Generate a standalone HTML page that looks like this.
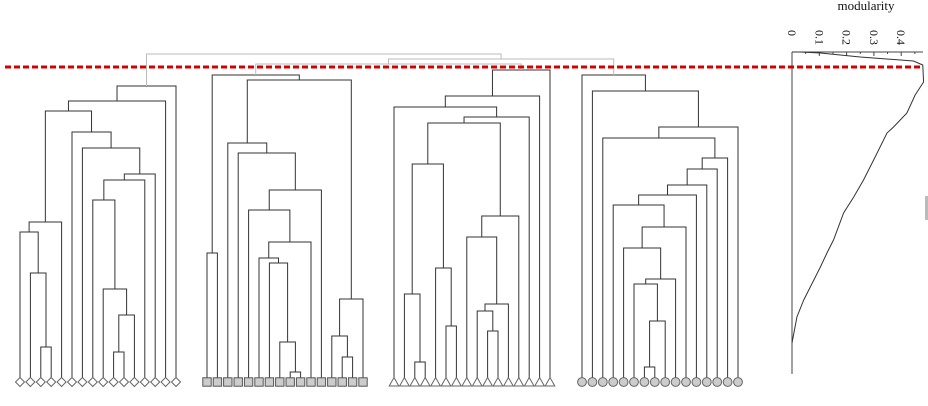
<!DOCTYPE html>
<html><head><meta charset="utf-8"><style>
html,body{margin:0;padding:0;background:#fff;width:928px;height:406px;overflow:hidden}
svg{display:block}
text{font-family:"Liberation Serif",serif;fill:#111}
</style></head><body>
<svg id="chart" width="928" height="406" viewBox="0 0 928 406" xmlns="http://www.w3.org/2000/svg">
<g id="trees"></g>
<g id="leaves"></g>
<g id="mod"></g>
<line x1="5" y1="67" x2="922" y2="67" stroke="#d40000" stroke-width="3" stroke-dasharray="6,3"/>
<text x="866" y="10" font-size="13" text-anchor="middle">modularity</text>
<rect x="925" y="196" width="3" height="24" fill="#bbb"/>
</svg>
<script>
// merges: [childA, childB, height]; child >=0 leaf index, child <0 => merge -(k+1)
const cluster1 = [[2,3,33],[1,-1,107],[0,-2,148],[-3,4,158],[9,10,28],[-5,11,65],[8,-6,91],[7,-7,180],[-8,12,200],[-9,13,206],[6,-10,232],[5,-11,248],[-4,-12,269],[-13,14,279],[-14,15,294]];
const cluster2 = [[0,1,127],[8,9,8],[7,-2,38],[6,-3,117],[5,-4,122],[-5,10,138],[4,-6,170],[-7,11,190],[3,-8,227],[2,-9,237],[13,14,23],[12,-11,44],[-12,15,81],[-10,-13,300],[-1,-14,305]];
const cluster3 = [[2,3,18],[1,-1,86],[5,6,54],[4,-3,112],[-2,-4,216],[9,10,49],[8,-6,69],[-7,11,76],[7,-8,143],[-9,12,164],[-5,-10,257],[-11,13,263],[0,-12,273],[-13,14,284],[-14,15,310]];
const cluster4 = [[6,7,13],[-1,8,59],[5,-2,96],[-3,9,101],[4,-4,132],[-5,10,153],[3,-6,175],[-7,11,185],[-8,12,195],[-9,13,211],[-10,14,222],[2,-11,242],[-12,15,253],[1,-13,289],[0,-14,305]];
const clusterShapes = ["diamond","square","triangle","circle"];
// top-level joins between cluster roots: [a,b,height] (a,b cluster idx >=0, join <0)
const topJoins = [[1,2,316],[-1,3,321],[0,-2,326]];
// modularity curve: modularity value and merge height
const modValues = [0,0.018,0.043,0.067,0.104,0.128,0.152,0.189,0.226,0.262,0.299,0.348,0.372,0.421,0.451,0.482,0.479,0.445,0.25,0.104,0.03,0];
const modHeights = [37,63,80,93,113,127,140,167,183,200,220,247,253,267,285,298,315,319,323,327,328,328];
const modTicks = [0,0.1,0.2,0.3,0.4];
const modTickLabels = ["0","0.1","0.2","0.3","0.4"];

const NS="http://www.w3.org/2000/svg";
const y = h => 380 - h;
const leafStarts=[20,207,394,582], leafStep=10.4;
const xLeaf=(c,i)=>leafStarts[c]+i*leafStep;
const xm = m => 792 + m*273;
function mk(tag,attrs,parent){const e=document.createElementNS(NS,tag);for(const k in attrs)e.setAttribute(k,attrs[k]);parent.appendChild(e);return e;}
const trees=document.getElementById('trees'), leaves=document.getElementById('leaves'), mod=document.getElementById('mod');
function link(x1,h1,x2,h2,h,col,g){
  const p=mk('path',{d:`M${x1},${y(h1)}V${y(h)}H${x2}V${y(h2)}`,fill:'none',stroke:col,'stroke-width':1},g);
  
  
}
const roots=[];
[cluster1,cluster2,cluster3,cluster4].forEach((merges,c)=>{
  const g=mk('g',{},trees);
  
  
  const nodes=[];
  const info=ch=> ch>=0?{x:xLeaf(c,ch),h:2}:nodes[-ch-1];
  merges.forEach(m=>{const a=info(m[0]),b=info(m[1]);link(a.x,a.h,b.x,b.h,m[2],'#333',g);nodes.push({x:(a.x+b.x)/2,h:m[2]});});
  roots.push(nodes[nodes.length-1]);
  for(let i=0;i<16;i++){
    const cx=xLeaf(c,i),cy=382;let e;const s=clusterShapes[c];
    if(s==='diamond')e=mk('path',{d:`M${cx},${cy-4.5}L${cx+4.5},${cy}L${cx},${cy+4.5}L${cx-4.5},${cy}Z`,fill:'#fff',stroke:'#666'},leaves);
    else if(s==='square')e=mk('rect',{x:cx-4.2,y:cy-4.2,width:8.4,height:8.4,fill:'#ccc',stroke:'#555'},leaves);
    else if(s==='triangle')e=mk('path',{d:`M${cx},${cy-4.5}L${cx+4.8},${cy+4}L${cx-4.8},${cy+4}Z`,fill:'#fff',stroke:'#666'},leaves);
    else e=mk('circle',{cx:cx,cy:cy,r:4.4,fill:'#ccc',stroke:'#666'},leaves);
    
    
  }
});
const joins=[];
topJoins.forEach(j=>{const a=j[0]>=0?roots[j[0]]:joins[-j[0]-1],b=j[1]>=0?roots[j[1]]:joins[-j[1]-1];link(a.x,a.h,b.x,b.h,j[2],'#bbb',trees);joins.push({x:(a.x+b.x)/2,h:j[2]});});
// modularity panel
let e=mk('line',{x1:792,y1:52,x2:792,y2:374,stroke:'#444'},mod);

e=mk('line',{x1:792,y1:52,x2:923,y2:52,stroke:'#444'},mod);

for(let k=0;k<10;k++){const m=k*0.05;const t=mk('line',{x1:xm(m),y1:52,x2:xm(m),y2:k%2?54:56,stroke:'#444'},mod);
  }
modTicks.forEach((m,i)=>{const t=mk('text',{transform:`translate(${xm(m)-4},30) rotate(90)`,'font-size':'12'},mod);t.textContent=modTickLabels[i];
  });
const pl=mk('polyline',{points:modValues.map((m,i)=>xm(m)+','+y(modHeights[i])).join(' '),fill:'none',stroke:'#333','stroke-width':1},mod);


</script>
</body></html>
